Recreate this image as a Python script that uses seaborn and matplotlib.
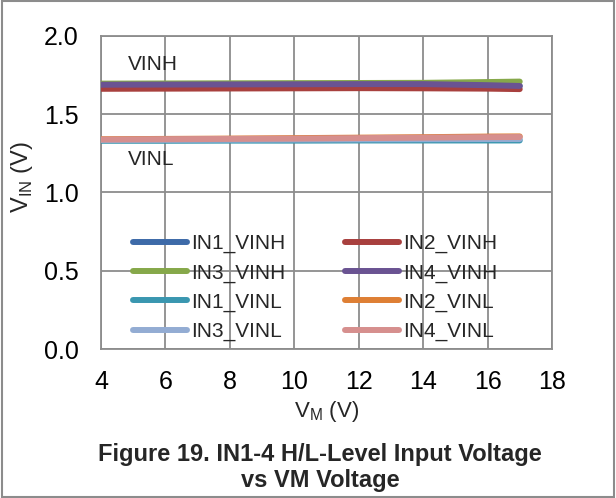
import matplotlib
matplotlib.use("Agg")
import matplotlib.pyplot as plt
import pandas as pd
import seaborn as sns
from matplotlib.patches import Rectangle

# VM supply voltage (V)
vm = [4, 6, 8, 10, 12, 14, 16, 17]

# input thresholds (V)
in1_vinh = [1.680, 1.680, 1.682, 1.683, 1.684, 1.684, 1.682, 1.680]
in2_vinh = [1.662, 1.663, 1.664, 1.665, 1.666, 1.665, 1.663, 1.660]
in3_vinh = [1.695, 1.696, 1.697, 1.698, 1.699, 1.700, 1.705, 1.708]
in4_vinh = [1.688, 1.689, 1.690, 1.691, 1.692, 1.692, 1.685, 1.680]
in1_vinl = [1.330, 1.330, 1.331, 1.331, 1.332, 1.332, 1.332, 1.332]
in2_vinl = [1.340, 1.342, 1.344, 1.347, 1.350, 1.353, 1.357, 1.358]
in3_vinl = [1.335, 1.336, 1.337, 1.338, 1.339, 1.340, 1.341, 1.341]
in4_vinl = [1.338, 1.340, 1.342, 1.344, 1.347, 1.350, 1.353, 1.354]

series = ["IN1_VINH", "IN2_VINH", "IN3_VINH", "IN4_VINH",
          "IN1_VINL", "IN2_VINL", "IN3_VINL", "IN4_VINL"]
values = [in1_vinh, in2_vinh, in3_vinh, in4_vinh,
          in1_vinl, in2_vinl, in3_vinl, in4_vinl]
colors = ["#3d6aa8", "#a8403e", "#86a84a", "#6a5392",
          "#3a97b0", "#de7f34", "#93acd3", "#d68f8e"]

df = pd.concat([pd.DataFrame({"vm": vm, "vin": v, "name": s})
                for s, v in zip(series, values)])

sns.set_theme(style="white")
plt.rcParams["font.family"] = ["Liberation Sans", "DejaVu Sans"]

fig = plt.figure(figsize=(6.16, 4.98), dpi=100)
ax = fig.add_axes([0.164, 0.299, 0.732, 0.629])

sns.lineplot(data=df, x="vm", y="vin", hue="name", hue_order=series,
             palette=dict(zip(series, colors)), linewidth=4.3,
             solid_capstyle="round", ax=ax, legend=False, zorder=3)

ax.set_xlim(4, 18)
ax.set_ylim(0, 2.0)
ax.set_xticks(range(4, 19, 2))
ax.set_yticks([0, 0.5, 1.0, 1.5, 2.0])
ax.set_yticklabels(["0.0", "0.5", "1.0", "1.5", "2.0"])
ax.grid(True, color="#8c8c8c", linewidth=1.3, zorder=0)
ax.set_axisbelow(True)
for sp in ax.spines.values():
    sp.set_color("#8c8c8c")
    sp.set_linewidth(1.3)
ax.tick_params(labelsize=18, colors="black", length=3, width=1.3,
               color="#8c8c8c", direction="out", pad=13)
ax.tick_params(axis="x", pad=12)

ax.set_xlabel("V$_{\\mathregular{M}}$ (V)", fontsize=16, labelpad=4)
ax.set_ylabel("V$_{\\mathregular{IN}}$ (V)", fontsize=17, labelpad=0)
ax.yaxis.set_label_coords(-0.146, 0.55)

ax.text(4.84, 1.82, "VINH", fontsize=15, va="center")
ax.text(4.84, 1.21, "VINL", fontsize=15, va="center")

# legend is filled row by row in the reference
order = [0, 2, 4, 6, 1, 3, 5, 7]
handles = [plt.Line2D([], [], color=colors[i], linewidth=4.3,
                      solid_capstyle="round") for i in order]
ax.legend(handles, [series[i] for i in order], loc="upper left",
          bbox_to_anchor=(0.07, 0.367), ncol=2, frameon=False,
          fontsize=15, handlelength=2.6, handletextpad=0.2,
          columnspacing=2.85, labelspacing=0.48, borderpad=0,
          borderaxespad=0)

fig.text(0.52, 0.087, "Figure 19. IN1-4 H/L-Level Input Voltage",
         ha="center", va="center", fontsize=17, fontweight="bold")
fig.text(0.52, 0.036, "vs VM Voltage", ha="center", va="center",
         fontsize=17, fontweight="bold")

fig.patches.append(Rectangle((0.003, 0.003), 0.994, 0.994,
                             transform=fig.transFigure, fill=False,
                             edgecolor="#8c8c8c", linewidth=1.5))

fig.savefig("out.png", dpi=100)
